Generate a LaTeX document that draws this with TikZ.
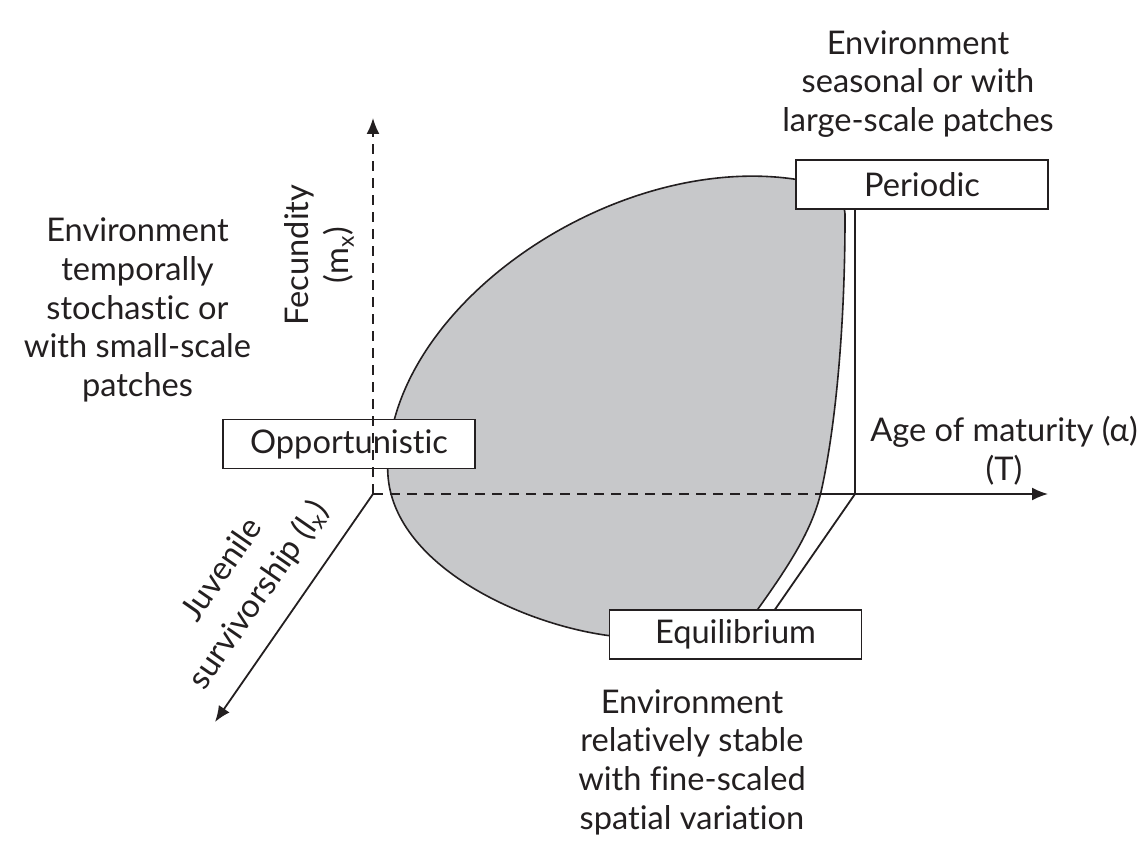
\documentclass[tikz,border=0pt]{standalone}
\usepackage{fontspec}
\setmainfont{Lato}[Ligatures=NoCommon]
\usetikzlibrary{arrows.meta,calc}
\definecolor{blobgray}{RGB}{199,200,202}
\definecolor{inkdark}{RGB}{35,31,32}

\begin{document}
\begin{tikzpicture}[x=0.5pt,y=-0.5pt,
  every node/.style={font=\fontsize{16.3}{19.3}\selectfont, text=inkdark},
  statebox/.style={draw=inkdark, fill=white, line width=0.9pt, minimum width=126pt, minimum height=24.5pt, inner sep=0pt},
  axis/.style={draw=inkdark, line width=0.9pt},
  axisdash/.style={axis, dash pattern=on 5pt off 3.5pt},
  tip/.style={-{Latex[length=8pt,width=6.5pt]}}]
  \useasboundingbox (0,0) rectangle (1144,849);

  \coordinate (O) at (373,494);
  \coordinate (corner) at (855,494);
  \coordinate (edge) at (820,494);
  \coordinate (mtop) at (373,118);
  \coordinate (Tend) at (1048,494);
  \coordinate (lend) at (215,722);
  \coordinate (zdir) at ($(corner)+(lend)-(O)$);

  % life-history region
  \filldraw[fill=blobgray, draw=inkdark, line width=0.8pt]
    (800,180) .. controls (620,150) and (395,300) .. (388,460)
    .. controls (380,560) and (520,625) .. (612,636)
    .. controls (680,640) and (735,630) .. (750,620)
    .. controls (790,565) and (812,530) .. (821,492)
    .. controls (835,430) and (845,330) .. (845,217)
    .. controls (846,200) and (830,183) .. (800,180) -- cycle;

  \draw[axis] (corner) -- ($(corner)!0.6!(zdir)$);

  \node[statebox] (periodic) at (922,184.5) {Periodic};
  \node[statebox] (equil) at (735.5,634.5) {Equilibrium};
  \node[statebox] (opport) at (349,444) {Opportunistic};

  \draw[axis] (corner) -- (corner |- periodic.south);

  % axes
  \draw[axisdash, tip] (O) -- (mtop);
  \draw[axisdash] (O) -- (edge);
  \draw[axis, tip] (edge) -- (Tend);
  \draw[axis, tip] (O) -- (lend);

  \node[rotate=90, align=center] (fec) at (319,255) {Fecundity\\[1pt](m\textsubscript{x})};
  \node[rotate=55.3, align=center] (juv) at (241,583) {Juvenile\\[3pt]survivorship (l\textsubscript{x})};
  \node[align=center] (age) at (1004,451) {Age of maturity (α)\\(T)};

  \node[align=center] (envP) at (918,84) {Environment\\seasonal or with\\large-scale patches};
  \node[align=center] (envO) at (137.5,310) {Environment\\temporally\\stochastic or\\with small-scale\\patches};
  \node[align=center] (envE) at (692,762) {Environment\\relatively stable\\with fine-scaled\\spatial variation};
\end{tikzpicture}
\end{document}
